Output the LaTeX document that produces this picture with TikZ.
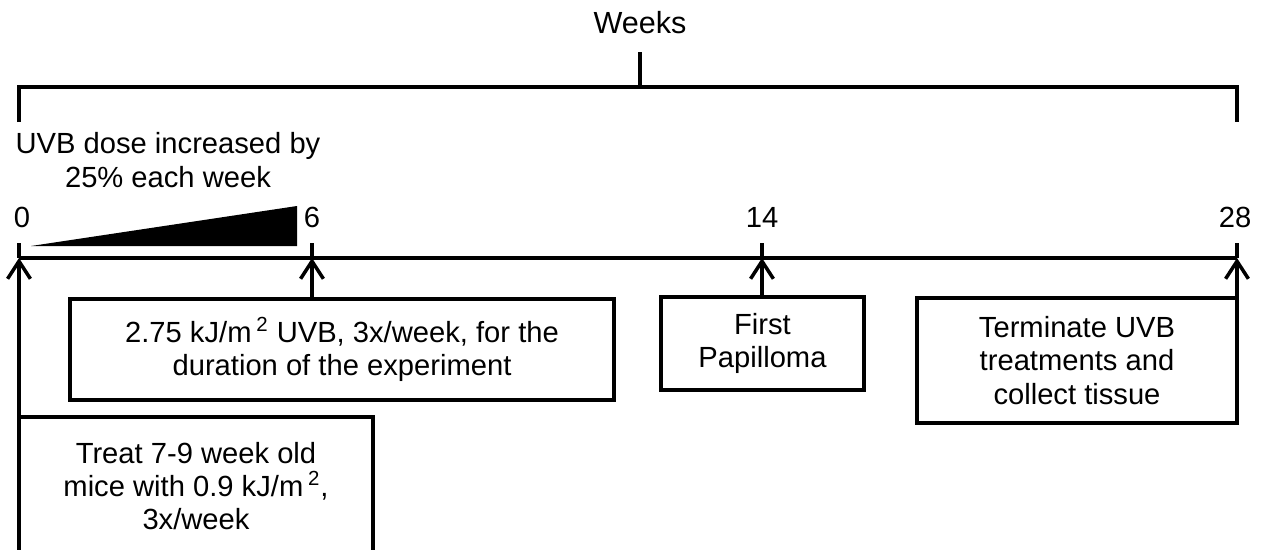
\documentclass[tikz,border=0pt]{standalone}
\usepackage{fontspec}
\setmainfont{Liberation Sans}
\usepackage{tikz}
\usetikzlibrary{arrows.meta, positioning}

\begin{document}
\begin{tikzpicture}[
  x=0.02cm, y=-0.02cm,
  font=\fontsize{16.6pt}{19pt}\selectfont,
  every node/.style={align=center},
  axisline/.style={line width=2pt},
  evbox/.style={
    draw, line width=2pt, inner sep=0pt, fill=white
  },
  weeklbl/.style={anchor=base, inner sep=0pt},
  arr/.style={-{Straight Barb[length=10pt, width=13pt]}, line width=2pt},
]

\useasboundingbox (0,0) rectangle (1262,549);

%% ─── Weeks bracket ───────────────────────────────────────────────────────────

\node[font=\fontsize{17.4pt}{20pt}\selectfont] (weeks) at (640,23) {Weeks};
\draw[axisline] (19,122) -- (19,87) -- (1237,87) -- (1237,122);
\draw[axisline] (640,87) -- (640,52);

%% ─── Dose ramp ───────────────────────────────────────────────────────────────

\node (ramp) at (168,160) {UVB dose increased by\\25\% each week};
\fill (31,246) -- (297,246) -- (297,206) -- cycle;

%% ─── Time axis with ticks and week numbers ───────────────────────────────────

\foreach \x/\lx/\w in {19/22/0, 312/312/6, 762/762/14, 1237/1235/28}{
  \coordinate (t\w) at (\x,258);
  \draw[axisline] (\x,243) -- (t\w);
  \node[weeklbl] (lbl\w) at (\lx,227) {\w};
}
\draw[axisline] (t0) -- (t28);

%% ─── Event boxes ─────────────────────────────────────────────────────────────

\node[evbox, minimum width=10.88cm, minimum height=2.02cm] (dose) at (342,349.5)
  {2.75 kJ/m\,\textsuperscript{2} UVB, 3x/week, for the\\duration of the experiment};
\node[evbox, minimum width=4.06cm, minimum height=1.86cm] (pap) at (762.5,343.5)
  {First\\Papilloma};
\node[evbox, minimum width=6.40cm, minimum height=2.50cm] (term) at (1077,360.5)
  {Terminate UVB\\treatments and\\collect tissue};
\node[evbox, minimum width=7.08cm, minimum height=2.76cm] (treat) at (196,486)
  {Treat 7-9 week old\\mice with 0.9 kJ/m\,\textsuperscript{2},\\3x/week};

%% ─── Arrows up to the axis ───────────────────────────────────────────────────

\draw[arr] (treat.north -| t0) -- (t0);
\draw[arr] (dose.north -| t6) -- (t6);
\draw[arr] (pap.north -| t14) -- (t14);
\draw[arr] (term.north -| t28) -- (t28);

\end{tikzpicture}
\end{document}
